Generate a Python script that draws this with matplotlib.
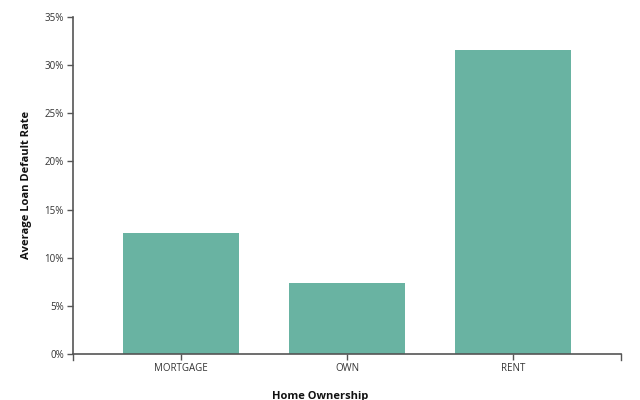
import matplotlib
matplotlib.use("Agg")
import matplotlib.pyplot as plt
from matplotlib.ticker import PercentFormatter

# data
home_ownership = ["MORTGAGE", "OWN", "RENT"]
default_rate = [12.55, 7.4, 31.6]

plt.rcParams['font.family'] = ['Open Sans', 'DejaVu Sans']

fig = plt.figure(figsize=(6.4, 4.0), dpi=100)
ax = fig.add_axes([73 / 640, 46 / 400, 548 / 640, 337 / 400])

x = list(range(len(home_ownership)))
ax.bar(x, default_rate, width=0.7, color="#69b3a2")

ax.set_xlim(-0.65, len(home_ownership) - 0.35)
ax.set_ylim(0, 35)
ax.set_xticks(x)
ax.set_xticklabels(home_ownership)
ax.set_yticks(range(0, 36, 5))
ax.yaxis.set_major_formatter(PercentFormatter(decimals=0))

for s in ["top", "right"]:
    ax.spines[s].set_visible(False)
for s in ["left", "bottom"]:
    ax.spines[s].set_color("#555555")
    ax.spines[s].set_linewidth(1.2)

# 6 px ticks
ax.tick_params(axis="both", length=4.5, width=1, color="#555555",
               labelsize=7, labelcolor="#333333", pad=2)
# outer end ticks of the x axis, like d3
for xe in [0, 1]:
    ax.plot([xe, xe], [0, -6 / 337], transform=ax.transAxes,
            color="#555555", lw=1, clip_on=False)

fig.text(320 / 640, 4 / 400, "Home Ownership", ha="center", va="center",
         fontsize=8, fontweight="bold", color="#111111")
fig.text(27 / 640, 1 - 185 / 400, "Average Loan Default Rate", ha="center",
         va="center", rotation=90, fontsize=8, fontweight="bold", color="#111111")

fig.savefig("out.png", dpi=100)
